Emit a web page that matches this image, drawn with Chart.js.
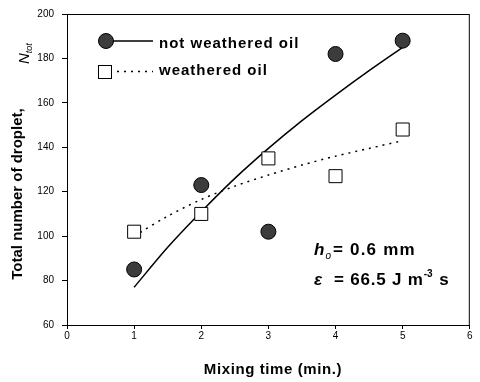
<!DOCTYPE html>
<html>
<head>
<meta charset="utf-8">
<script src="https://cdn.jsdelivr.net/npm/chart.js@4.4.0/dist/chart.umd.min.js"></script>
<style>
  html, body { margin: 0; padding: 0; background: #fff; }
  #wrap { width: 480px; height: 382px; position: relative; }
</style>
</head>
<body>
<div id="wrap"><canvas id="chart"></canvas></div>
<script>
// measured points
const mixTime = [1, 2, 3, 4, 5];
const notWeathered = [85, 123, 102, 182, 188];
const weathered = [102, 110, 135, 127, 148];

// trend curves
const trendTime = [1, 1.5, 2, 2.5, 3, 3.5, 4, 4.5, 5];
const notWeatheredTrend = [77, 95, 111, 126, 139.5, 152, 163.5, 174.5, 185];
const weatheredTrend = [100, 109, 116.5, 122.5, 127.5, 132, 136, 139.5, 143];

const xTicks = [0, 1, 2, 3, 4, 5, 6];
const yTicks = [60, 80, 100, 120, 140, 160, 180, 200];

const FONT = 'Arial, "Liberation Sans", sans-serif';

const toXY = (xs, ys) => xs.map((x, i) => ({ x: x, y: ys[i] }));

// frame, titles, legend and the note in the plot
const decorations = {
    id: 'decorations',
    afterDraw(chart) {
        const ctx = chart.ctx;
        const a = chart.chartArea;
        ctx.save();

        // box round the plot
        ctx.strokeStyle = '#000';
        ctx.lineWidth = 1;
        ctx.strokeRect(a.left + 0.5, a.top + 0.5, a.right - a.left - 1, a.bottom - a.top);

        ctx.fillStyle = '#000';

        // x title
        ctx.font = 'bold 15px ' + FONT;
        ctx.letterSpacing = '0.6px';
        ctx.textAlign = 'center';
        ctx.textBaseline = 'alphabetic';
        ctx.fillText('Mixing time (min.)', 273, 374);
        ctx.letterSpacing = '0px';

        // y title
        ctx.save();
        ctx.translate(22, 194);
        ctx.rotate(-Math.PI / 2);
        ctx.fillText('Total number of droplet,', 0, 0);
        ctx.restore();

        ctx.save();
        ctx.translate(29, 64);
        ctx.rotate(-Math.PI / 2);
        ctx.textAlign = 'left';
        ctx.font = 'italic 15px ' + FONT;
        ctx.fillText('N', 0, 0);
        const nw = ctx.measureText('N').width;
        ctx.font = 'italic 9px ' + FONT;
        ctx.fillText('tot', nw, 3);
        ctx.restore();

        // legend
        const ds = chart.data.datasets;
        ctx.textAlign = 'left';

        ctx.strokeStyle = '#000';
        ctx.lineWidth = 1.5;
        ctx.setLineDash([]);
        ctx.beginPath();
        ctx.moveTo(112, 41);
        ctx.lineTo(153, 41);
        ctx.stroke();
        ctx.lineWidth = 1;
        ctx.fillStyle = ds[0].backgroundColor;
        ctx.strokeStyle = ds[0].borderColor;
        ctx.beginPath();
        ctx.arc(106, 41, 7.5, 0, Math.PI * 2);
        ctx.fill();
        ctx.stroke();

        ctx.strokeStyle = '#000';
        ctx.lineWidth = 1.5;
        ctx.setLineDash([2, 5]);
        ctx.beginPath();
        ctx.moveTo(117, 71.5);
        ctx.lineTo(153, 71.5);
        ctx.stroke();
        ctx.setLineDash([]);
        ctx.lineWidth = 1;
        ctx.fillStyle = '#fff';
        ctx.fillRect(98.5, 65.5, 13, 13);
        ctx.strokeRect(98.5, 65.5, 13, 13);

        ctx.fillStyle = '#000';
        ctx.font = 'bold 15px ' + FONT;
        ctx.letterSpacing = '1px';
        ctx.fillText(ds[0].label, 159, 48);
        ctx.fillText(ds[1].label, 159, 75);

        // note
        ctx.font = 'bold italic 17px ' + FONT;
        ctx.fillText('h', 314, 255);
        let x = 314 + ctx.measureText('h').width;
        ctx.letterSpacing = '0px';
        ctx.font = 'italic 10px ' + FONT;
        ctx.fillText('o', x, 259);
        x += ctx.measureText('o').width + 2;
        ctx.letterSpacing = '1.2px';
        ctx.font = 'bold 17px ' + FONT;
        ctx.fillText('= 0.6 mm', x, 255);

        ctx.letterSpacing = '0.8px';
        ctx.font = 'bold italic 17px ' + FONT;
        ctx.fillText('\u03b5', 314, 285);
        x = 314 + ctx.measureText('\u03b5').width;
        ctx.font = 'bold 17px ' + FONT;
        ctx.fillText('  = 66.5 J m', x, 285);
        x += ctx.measureText('  = 66.5 J m').width;
        ctx.letterSpacing = '0px';
        ctx.font = 'bold 10px ' + FONT;
        ctx.fillText('-3', x, 277);
        x += ctx.measureText('-3').width + 1;
        ctx.letterSpacing = '0.8px';
        ctx.font = 'bold 17px ' + FONT;
        ctx.fillText(' s', x, 285);
        ctx.letterSpacing = '0px';

        ctx.restore();
    }
};

const ctx = document.getElementById('chart').getContext('2d');
const chart = new Chart(ctx, {
    type: 'scatter',
    data: {
        datasets: [
            {
                label: 'not weathered oil',
                data: toXY(mixTime, notWeathered),
                pointStyle: 'circle',
                pointRadius: 7.5,
                backgroundColor: '#3c3c3c',
                borderColor: '#000',
                borderWidth: 1,
                showLine: false,
                order: 0
            },
            {
                label: 'weathered oil',
                data: toXY(mixTime, weathered),
                pointStyle: 'rect',
                pointRadius: 9.2,
                backgroundColor: '#fff',
                borderColor: '#000',
                borderWidth: 1,
                showLine: false,
                order: 0
            },
            {
                label: 'not weathered trend',
                data: toXY(trendTime, notWeatheredTrend),
                showLine: true,
                pointRadius: 0,
                borderColor: '#000',
                borderWidth: 1.5,
                tension: 0.3,
                order: 1
            },
            {
                label: 'weathered trend',
                data: toXY(trendTime, weatheredTrend),
                showLine: true,
                pointRadius: 0,
                borderColor: '#000',
                borderWidth: 1.5,
                borderDash: [2, 5],
                tension: 0.3,
                order: 1
            }
        ]
    },
    options: {
        responsive: true,
        maintainAspectRatio: false,
        animation: false,
        layout: { padding: { left: 0, top: 10, right: 3, bottom: 0 } },
        plugins: {
            legend: { display: false },
            tooltip: { enabled: false }
        },
        scales: {
            x: {
                type: 'linear',
                min: 0,
                max: 6,
                afterBuildTicks: (scale) => { scale.ticks = xTicks.map(v => ({ value: v })); },
                afterFit: (scale) => { scale.height = 57; },
                border: { display: true, color: '#000', width: 1 },
                grid: { drawOnChartArea: false, drawTicks: true, tickLength: 4, color: '#000' },
                ticks: { color: '#000', font: { family: FONT, size: 10 }, padding: 1 }
            },
            y: {
                type: 'linear',
                min: 60,
                max: 200,
                afterBuildTicks: (scale) => { scale.ticks = yTicks.map(v => ({ value: v })); },
                afterFit: (scale) => { scale.width = 67; },
                border: { display: true, color: '#000', width: 1 },
                grid: { drawOnChartArea: false, drawTicks: true, tickLength: 5, color: '#000' },
                ticks: { color: '#000', font: { family: FONT, size: 10 }, padding: 8 }
            }
        }
    },
    plugins: [decorations]
});
</script>
</body>
</html>
